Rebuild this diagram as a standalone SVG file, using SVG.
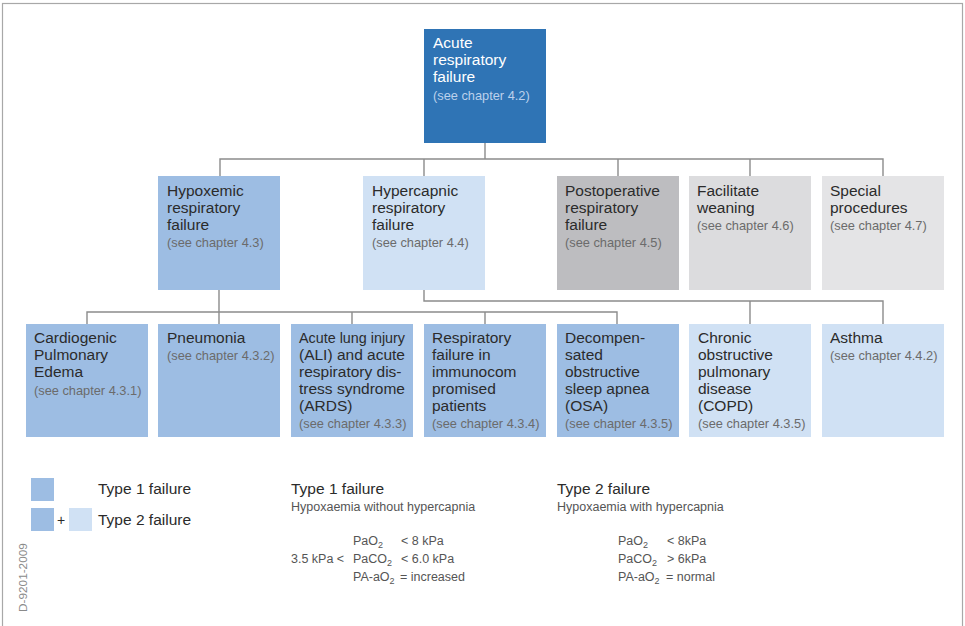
<svg xmlns="http://www.w3.org/2000/svg" width="965" height="626" viewBox="0 0 965 626">
<style>
  .t{font-family:"Liberation Sans",Arial,Helvetica,sans-serif;font-size:15.5px;fill:#2b2b2b}
  .s{font-family:"Liberation Sans",Arial,Helvetica,sans-serif;font-size:12.8px;fill:#6b6b6b}
  .w{fill:#ffffff}
  .ws{fill:#bcd1ec}
  .f{font-family:"Liberation Sans",Arial,Helvetica,sans-serif;font-size:12.5px;fill:#555555}
  .sub{font-size:9px}
  .b1{fill:#9dbde3}
  .b2{fill:#d0e1f4}
  .c{fill:none;stroke:#8c8c8c;stroke-width:1.4}
</style>
<rect x="2.5" y="3.5" width="960" height="640" fill="#ffffff" stroke="#a8a8a8" stroke-width="1.2"/>

<g id="connectors">
  <path class="c" d="M485 143V159M220 176V159H883V176M424 159V176M618 159V176M750 159V176"/>
  <path class="c" d="M219 290V312M87 324V312H617V324M219 312V324M352 312V324M485 312V324"/>
  <path class="c" d="M424 290V301H883V324M750 301V324"/>
</g>

<g id="acute">
  <rect x="424" y="29" width="122" height="114" fill="#2f74b5"/>
  <text class="t w" x="433" y="48">Acute</text>
  <text class="t w" x="433" y="65">respiratory</text>
  <text class="t w" x="433" y="82">failure</text>
  <text class="s ws" x="433" y="100">(see chapter 4.2)</text>
</g>

<g id="hypoxemic">
  <rect class="b1" x="158" y="176" width="122" height="114"/>
  <text class="t" x="167" y="196">Hypoxemic</text>
  <text class="t" x="167" y="213">respiratory</text>
  <text class="t" x="167" y="230">failure</text>
  <text class="s" x="167" y="247">(see chapter 4.3)</text>
</g>
<g id="hypercapnic">
  <rect class="b2" x="363" y="176" width="122" height="114"/>
  <text class="t" x="372" y="196">Hypercapnic</text>
  <text class="t" x="372" y="213">respiratory</text>
  <text class="t" x="372" y="230">failure</text>
  <text class="s" x="372" y="247">(see chapter 4.4)</text>
</g>
<g id="postoperative">
  <rect x="557" y="176" width="122" height="114" fill="#bdbdc0"/>
  <text class="t" x="565" y="196">Postoperative</text>
  <text class="t" x="565" y="213">respiratory</text>
  <text class="t" x="565" y="230">failure</text>
  <text class="s" x="565" y="247">(see chapter 4.5)</text>
</g>
<g id="facilitate">
  <rect x="689" y="176" width="122" height="114" fill="#dcdcde"/>
  <text class="t" x="697" y="196">Facilitate</text>
  <text class="t" x="697" y="213">weaning</text>
  <text class="s" x="697" y="230">(see chapter 4.6)</text>
</g>
<g id="special">
  <rect x="822" y="176" width="122" height="114" fill="#e4e4e6"/>
  <text class="t" x="830" y="196">Special</text>
  <text class="t" x="830" y="213">procedures</text>
  <text class="s" x="830" y="230">(see chapter 4.7)</text>
</g>

<g id="cardiogenic">
  <rect class="b1" x="26" y="324" width="122" height="113"/>
  <text class="t" x="34" y="343">Cardiogenic</text>
  <text class="t" x="34" y="360">Pulmonary</text>
  <text class="t" x="34" y="377">Edema</text>
  <text class="s" x="34" y="395">(see chapter 4.3.1)</text>
</g>
<g id="pneumonia">
  <rect class="b1" x="158" y="324" width="122" height="113"/>
  <text class="t" x="167" y="343">Pneumonia</text>
  <text class="s" x="167" y="360">(see chapter 4.3.2)</text>
</g>
<g id="ali">
  <rect class="b1" x="291" y="324" width="122" height="113"/>
  <text class="t" x="299" y="343" textLength="106" lengthAdjust="spacingAndGlyphs">Acute lung injury</text>
  <text class="t" x="299" y="360">(ALI) and acute</text>
  <text class="t" x="299" y="377">respiratory dis-</text>
  <text class="t" x="299" y="394">tress syndrome</text>
  <text class="t" x="299" y="411">(ARDS)</text>
  <text class="s" x="299" y="428">(see chapter 4.3.3)</text>
</g>
<g id="immunocompromised">
  <rect class="b1" x="424" y="324" width="122" height="113"/>
  <text class="t" x="432" y="343">Respiratory</text>
  <text class="t" x="432" y="360">failure in</text>
  <text class="t" x="432" y="377">immunocom</text>
  <text class="t" x="432" y="394">promised</text>
  <text class="t" x="432" y="411">patients</text>
  <text class="s" x="432" y="428">(see chapter 4.3.4)</text>
</g>
<g id="osa">
  <rect class="b1" x="557" y="324" width="122" height="113"/>
  <text class="t" x="565" y="343">Decompen-</text>
  <text class="t" x="565" y="360">sated</text>
  <text class="t" x="565" y="377">obstructive</text>
  <text class="t" x="565" y="394">sleep apnea</text>
  <text class="t" x="565" y="411">(OSA)</text>
  <text class="s" x="565" y="428">(see chapter 4.3.5)</text>
</g>
<g id="copd">
  <rect class="b2" x="689" y="324" width="122" height="113"/>
  <text class="t" x="698" y="343">Chronic</text>
  <text class="t" x="698" y="360">obstructive</text>
  <text class="t" x="698" y="377">pulmonary</text>
  <text class="t" x="698" y="394">disease</text>
  <text class="t" x="698" y="411">(COPD)</text>
  <text class="s" x="698" y="428">(see chapter 4.3.5)</text>
</g>
<g id="asthma">
  <rect class="b2" x="822" y="324" width="122" height="113"/>
  <text class="t" x="830" y="343">Asthma</text>
  <text class="s" x="830" y="360">(see chapter 4.4.2)</text>
</g>

<g id="legend">
  <rect class="b1" x="31" y="478" width="23" height="23"/>
  <text class="t" x="98" y="494">Type 1 failure</text>
  <rect class="b1" x="31" y="508" width="23" height="23"/>
  <text class="t" x="57" y="525" style="font-size:14px">+</text>
  <rect class="b2" x="69" y="508" width="23" height="23"/>
  <text class="t" x="98" y="525">Type 2 failure</text>
</g>

<g id="type1">
  <text class="t" x="291" y="494">Type 1 failure</text>
  <text class="f" x="291" y="511">Hypoxaemia without hypercapnia</text>
  <text class="f" x="353" y="545">PaO<tspan class="sub" dy="3">2</tspan></text>
  <text class="f" x="401" y="545">&lt; 8 kPa</text>
  <text class="f" x="291" y="563">3.5 kPa &lt;</text>
  <text class="f" x="353" y="563">PaCO<tspan class="sub" dy="3">2</tspan></text>
  <text class="f" x="401" y="563">&lt; 6.0 kPa</text>
  <text class="f" x="353" y="581">PA-aO<tspan class="sub" dy="3">2</tspan></text>
  <text class="f" x="400" y="581">= increased</text>
</g>

<g id="type2">
  <text class="t" x="557" y="494">Type 2 failure</text>
  <text class="f" x="557" y="511">Hypoxaemia with hypercapnia</text>
  <text class="f" x="618" y="545">PaO<tspan class="sub" dy="3">2</tspan></text>
  <text class="f" x="667" y="545">&lt; 8kPa</text>
  <text class="f" x="618" y="563">PaCO<tspan class="sub" dy="3">2</tspan></text>
  <text class="f" x="667" y="563">&gt; 6kPa</text>
  <text class="f" x="618" y="581">PA-aO<tspan class="sub" dy="3">2</tspan></text>
  <text class="f" x="666" y="581">= normal</text>
</g>

<text transform="translate(26.5,612) rotate(-90)" style="font-family:'Liberation Sans',Arial,sans-serif;font-size:11.8px;fill:#8a8a8a">D-9201-2009</text>
</svg>
